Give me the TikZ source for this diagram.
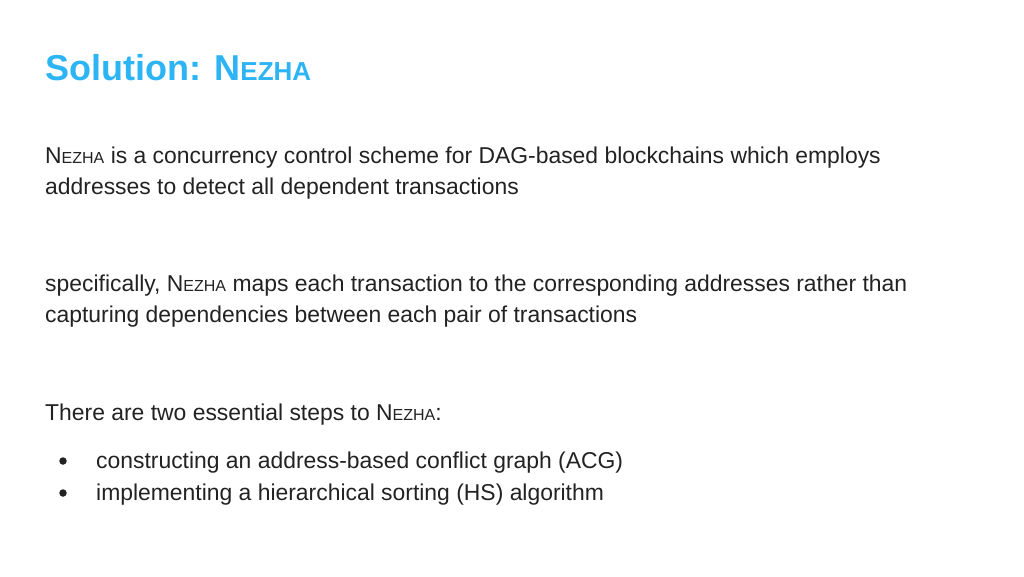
\documentclass[tikz,border=0pt]{standalone}
\usepackage{fontspec}
\setmainfont{Liberation Sans}
\definecolor{titleblue}{HTML}{2DB4F5}
\definecolor{bodygray}{HTML}{222222}
\newcommand{\nz}[1]{N{\fontsize{#1}{#1}\selectfont EZHA}}
\tikzset{txt/.style={anchor=base west,inner sep=0pt,text=bodygray,font=\fontsize{22.9}{26}\selectfont},
 dot/.style={circle,fill=bodygray,inner sep=0pt,minimum size=7.5pt}}
\begin{document}
\begin{tikzpicture}[x=1pt,y=-1pt]
\useasboundingbox (0,0) rectangle (1024,576);
\node[anchor=base west,inner sep=0pt,text=titleblue,font=\fontsize{36}{40}\selectfont\bfseries] (title) at (45,80) {Solution: \nz{26}};
\node[txt] (p1a) at (45,163) {\nz{16} is a concurrency control scheme for DAG-based blockchains which employs};
\node[txt] (p1b) at (45,194) {addresses to detect all dependent transactions};
\node[txt] (p2a) at (45,291) {specifically, \nz{16} maps each transaction to the corresponding addresses rather than};
\node[txt] (p2b) at (45,322) {capturing dependencies between each pair of transactions};
\node[txt] (p3) at (45,420) {There are two essential steps to \nz{16}:};
\node[dot] (d1) at (63,461) {};
\node[txt] (b1) at (96,468) {constructing an address-based conflict graph (ACG)};
\node[dot] (d2) at (63,493) {};
\node[txt] (b2) at (96,500) {implementing a hierarchical sorting (HS) algorithm};
\end{tikzpicture}
\end{document}
